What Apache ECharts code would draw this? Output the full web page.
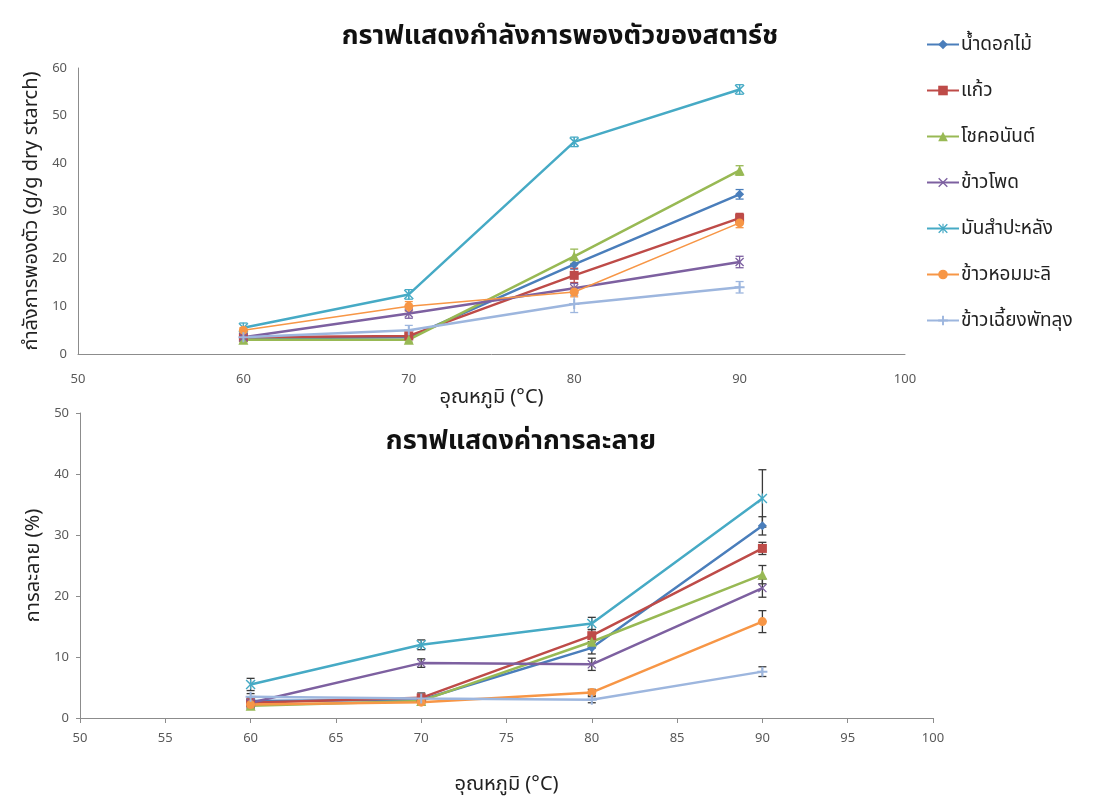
<!DOCTYPE html>
<html>
<head>
<meta charset="utf-8">
<script src="https://cdn.jsdelivr.net/npm/echarts@6/dist/echarts.min.js"></script>
<style>
html,body{margin:0;padding:0;background:#fff;}
#c{width:1094px;height:803px;}
</style>
</head>
<body>
<div id="c"></div>
<script>
// ---- data ----
const temps = [60, 70, 80, 90];
const seriesNames = ['น้ำดอกไม้', 'แก้ว', 'โชคอนันต์', 'ข้าวโพด', 'มันสำปะหลัง', 'ข้าวหอมมะลิ', 'ข้าวเฉี้ยงพัทลุง'];

// swelling power (g/g dry starch)
const swellNamdokmai = [3.3, 3.5, 18.8, 33.5];
const swellKaew      = [3.5, 3.8, 16.5, 28.5];
const swellChok      = [3.0, 3.0, 20.5, 38.5];
const swellCorn      = [3.5, 8.5, 13.8, 19.3];
const swellCassava   = [5.5, 12.5, 44.5, 55.5];
const swellJasmine   = [5.0, 10.0, 13.0, 27.5];
const swellChiang    = [3.5, 5.0, 10.5, 14.0];

const swellErrNamdokmai = [0.5, 0.5, 1.0, 1.0];
const swellErrKaew      = [0.5, 0.5, 1.5, 1.0];
const swellErrChok      = [0.5, 0.5, 1.5, 1.0];
const swellErrCorn      = [0.5, 1.0, 1.0, 1.2];
const swellErrCassava   = [1.0, 1.0, 1.0, 1.0];
const swellErrJasmine   = [0.5, 1.0, 1.0, 1.0];
const swellErrChiang    = [0.5, 1.0, 1.8, 1.2];

// solubility (%)
const solNamdokmai = [2.8, 3.0, 11.5, 31.5];
const solKaew      = [2.5, 3.3, 13.5, 27.8];
const solChok      = [2.0, 2.8, 12.5, 23.5];
const solCorn      = [2.5, 9.0, 8.8, 21.3];
const solCassava   = [5.5, 12.0, 15.5, 36.0];
const solJasmine   = [2.2, 2.6, 4.2, 15.8];
const solChiang    = [3.5, 3.2, 3.0, 7.6];

const solErrNamdokmai = [0.5, 0.5, 1.0, 1.5];
const solErrKaew      = [0.5, 0.8, 1.0, 1.0];
const solErrChok      = [0.5, 0.5, 1.0, 1.5];
const solErrCorn      = [0.5, 0.7, 1.0, 1.5];
const solErrCassava   = [1.0, 0.8, 1.0, 4.7];
const solErrJasmine   = [0.5, 0.5, 0.5, 1.8];
const solErrChiang    = [0.5, 0.5, 0.5, 0.8];

const topTitle = 'กราฟแสดงกำลังการพองตัวของสตาร์ช';
const bottomTitle = 'กราฟแสดงค่าการละลาย';
const topYName = 'กำลังการพองตัว (g/g dry starch)';
const bottomYName = 'การละลาย (%)';
const xName = 'อุณหภูมิ (°C)';

// ---- styling ----
const colors = ['#4a7ebb', '#be4b48', '#98b954', '#7d60a0', '#46aac5', '#f79646', '#9db6de'];
const X_PATH = 'path://M1,0L5,4L9,0L10,1L6,5L10,9L9,10L5,6L1,10L0,9L4,5L0,1Z';
const STAR_PATH = 'path://M1,0L4.4,3.4V0H5.6V3.4L9,0L10,1L6,5L10,9L9,10L5.6,6.6V10H4.4V6.6L1,10L0,9L4,5L0,1Z';
const PLUS_PATH = 'path://M4,0H6V4H10V6H6V10H4V6H0V4H4Z';
const symbols = ['diamond', 'rect', 'triangle', X_PATH, STAR_PATH, 'circle', PLUS_PATH];
const symSizes = [9, 9, 10, 9, 10, 9, 10];
const FONT = '"Noto Sans", "Noto Sans Thai", "DejaVu Sans", sans-serif';

const swellVals = [swellNamdokmai, swellKaew, swellChok, swellCorn, swellCassava, swellJasmine, swellChiang];
const swellErrs = [swellErrNamdokmai, swellErrKaew, swellErrChok, swellErrCorn, swellErrCassava, swellErrJasmine, swellErrChiang];
const solVals = [solNamdokmai, solKaew, solChok, solCorn, solCassava, solJasmine, solChiang];
const solErrs = [solErrNamdokmai, solErrKaew, solErrChok, solErrCorn, solErrCassava, solErrJasmine, solErrChiang];

function lineSeries(vals, idx) {
  return vals.map((v, i) => ({
    name: seriesNames[i],
    type: 'line',
    xAxisIndex: idx, yAxisIndex: idx,
    data: temps.map((t, k) => [t, v[k]]),
    symbol: symbols[i],
    symbolSize: symSizes[i],
    showAllSymbol: true,
    lineStyle: { width: (i === 5 && idx === 0) ? 1.5 : 2.5, color: colors[i] },
    itemStyle: { color: colors[i] },
    z: 3,
    animation: false
  }));
}

function errSeries(vals, errs, idx, useColor) {
  return vals.map((v, i) => ({
    name: seriesNames[i] + ' err',
    type: 'custom',
    xAxisIndex: idx, yAxisIndex: idx,
    data: temps.map((t, k) => [t, v[k] - errs[i][k], v[k] + errs[i][k]]),
    renderItem: function (params, api) {
      const lo = api.coord([api.value(0), api.value(1)]);
      const hi = api.coord([api.value(0), api.value(2)]);
      const w = 4;
      const st = { stroke: useColor ? colors[i] : '#3a3a3a', lineWidth: 1.3 };
      return {
        type: 'group',
        children: [
          { type: 'line', shape: { x1: lo[0], y1: lo[1], x2: hi[0], y2: hi[1] }, style: st },
          { type: 'line', shape: { x1: lo[0] - w, y1: lo[1], x2: lo[0] + w, y2: lo[1] }, style: st },
          { type: 'line', shape: { x1: hi[0] - w, y1: hi[1], x2: hi[0] + w, y2: hi[1] }, style: st }
        ]
      };
    },
    z: 2,
    silent: true,
    animation: false
  }));
}

const axisLabelStyle = { color: '#595959', fontSize: 13, fontFamily: FONT };
const axisLineStyle = { lineStyle: { color: '#8c8c8c', width: 1 } };
const nameStyle = { fontSize: 20, color: '#222', fontFamily: FONT };

const option = {
  backgroundColor: '#fff',
  textStyle: { fontFamily: FONT },
  title: [
    { text: topTitle, left: 555, top: 18, textAlign: 'center',
      textStyle: { fontSize: 27, fontWeight: 'bold', color: '#111', fontFamily: FONT } },
    { text: bottomTitle, left: 516, top: 423, textAlign: 'center',
      textStyle: { fontSize: 27, fontWeight: 'bold', color: '#111', fontFamily: FONT } }
  ],
  legend: {
    data: seriesNames,
    orient: 'vertical',
    left: 921, top: 30,
    itemWidth: 32, itemHeight: 12,
    itemGap: 27,
    textStyle: { fontSize: 19, color: '#222', fontFamily: FONT, padding: [0, 0, 0, -3] }
  },
  grid: [
    { left: 78, top: 68, width: 827, height: 286 },
    { left: 80, top: 413, width: 853, height: 305 }
  ],
  xAxis: [
    { type: 'value', gridIndex: 0, min: 50, max: 100, interval: 10,
      name: xName, nameLocation: 'middle', nameGap: 32,
      nameTextStyle: nameStyle,
      axisLine: axisLineStyle, axisTick: { show: false }, splitLine: { show: false },
      axisLabel: Object.assign({ margin: 19 }, axisLabelStyle) },
    { type: 'value', gridIndex: 1, min: 50, max: 100, interval: 5,
      name: xName, nameLocation: 'middle', nameGap: 56,
      nameTextStyle: nameStyle,
      axisLine: axisLineStyle, axisTick: { show: true, length: 5, lineStyle: { color: '#8c8c8c' } },
      splitLine: { show: false },
      axisLabel: Object.assign({ margin: 14 }, axisLabelStyle) }
  ],
  yAxis: [
    { type: 'value', gridIndex: 0, min: 0, max: 60, interval: 10,
      name: topYName, nameLocation: 'middle', nameGap: 36,
      nameTextStyle: nameStyle,
      axisLine: { show: true, lineStyle: { color: '#8c8c8c' } }, axisTick: { show: false },
      splitLine: { show: false },
      axisLabel: Object.assign({ margin: 11 }, axisLabelStyle) },
    { type: 'value', gridIndex: 1, min: 0, max: 50, interval: 10,
      name: bottomYName, nameLocation: 'middle', nameGap: 37,
      nameTextStyle: nameStyle,
      axisLine: { show: true, lineStyle: { color: '#8c8c8c' } },
      axisTick: { show: true, length: 4, lineStyle: { color: '#8c8c8c' } },
      splitLine: { show: false },
      axisLabel: Object.assign({ margin: 11 }, axisLabelStyle) }
  ],
  series: [].concat(
    errSeries(swellVals, swellErrs, 0, true),
    lineSeries(swellVals, 0),
    errSeries(solVals, solErrs, 1, false),
    lineSeries(solVals, 1)
  )
};

const chart = echarts.init(document.getElementById('c'), null, { renderer: 'canvas' });
chart.setOption(option);
</script>
</body>
</html>
